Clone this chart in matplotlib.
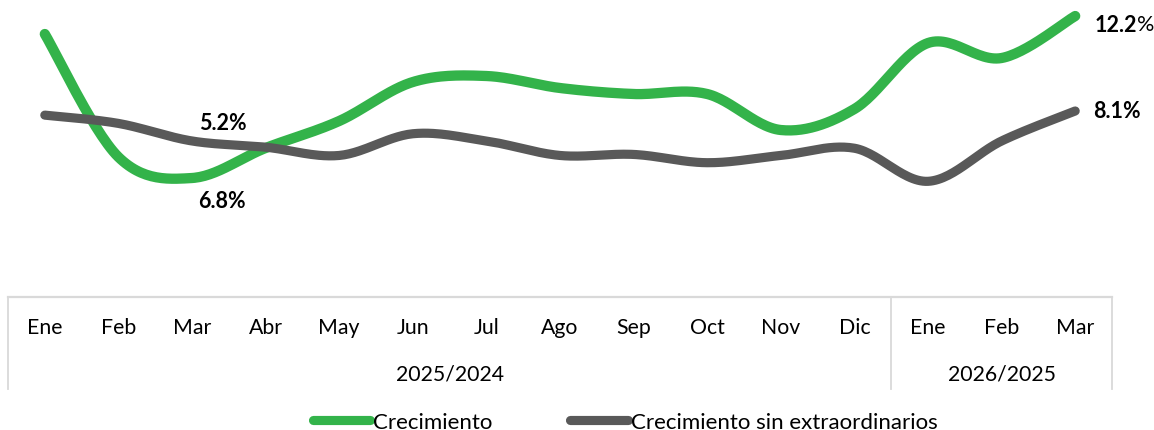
import matplotlib
matplotlib.use("Agg")
import matplotlib.pyplot as plt
import matplotlib.transforms as mtransforms
from matplotlib.lines import Line2D
import numpy as np

plt.rcParams["font.family"] = ["Lato", "DejaVu Sans"]

# --- data ---
months = ["Ene", "Feb", "Mar", "Abr", "May", "Jun", "Jul", "Ago", "Sep", "Oct",
          "Nov", "Dic", "Ene", "Feb", "Mar"]
years = ["2025/2024", "2026/2025"]
year_spans = [(0, 11), (12, 14)]
crecimiento = [11.6, 7.5, 6.8, 7.8, 8.7, 10.0, 10.2, 9.8, 9.6, 9.6, 8.4, 9.1,
               11.3, 10.8, 12.2]
sin_extra = [7.7, 6.9, 5.2, 4.6, 3.8, 5.9, 5.2, 3.8, 3.9, 3.1, 3.8, 4.5,
             1.3, 5.2, 8.1]

GREEN = "#33b34a"
GRAY = "#595959"
GRID = "#d9d9d9"


def smooth(xs, ys, n=30):
    # Catmull-Rom style bezier, like Excel's "smoothed line"
    p = np.column_stack([xs, ys]).astype(float)
    p = np.vstack([p[0], p, p[-1]])
    out = []
    t = np.linspace(0, 1, n)[:, None]
    for i in range(1, len(p) - 2):
        p0, p1, p2, p3 = p[i - 1], p[i], p[i + 1], p[i + 2]
        c1 = p1 + (p2 - p0) / 6
        c2 = p2 - (p3 - p1) / 6
        seg = ((1 - t) ** 3) * p1 + 3 * ((1 - t) ** 2) * t * c1 \
            + 3 * (1 - t) * t ** 2 * c2 + t ** 3 * p2
        out.append(seg if i == 1 else seg[1:])
    out = np.vstack(out)
    return out[:, 0], out[:, 1]


W, H = 1154, 431
fig = plt.figure(figsize=(W / 100, H / 100), dpi=100)

left, right = 8 / W, 1112 / W
ax = fig.add_axes([left, 1 - 297 / H, right - left, 297 / H])
ax2 = ax.twinx()
for a in (ax, ax2):
    a.set_xlim(-0.5, len(months) - 0.5)
    a.axis("off")
ax.set_ylim(2.867, 12.767)
ax2.set_ylim(-9.79, 18.93)

x = np.arange(len(months))
sx, sy = smooth(x, crecimiento)
ax.plot(sx, sy, color=GREEN, lw=7.4, solid_capstyle="round", zorder=3)
gx, gy = smooth(x, sin_extra)
ax2.plot(gx, gy, color=GRAY, lw=6.6, solid_capstyle="round", zorder=2)

# --- data labels ---
FS_LAB = 15.5
lab = dict(fontsize=FS_LAB, fontweight="bold", color="black", va="center",
           textcoords="offset points")
ax2.annotate(f"{sin_extra[2]:.1f}%", (2, sin_extra[2]), xytext=(22, 13),
             ha="center", **lab)
ax.annotate(f"{crecimiento[2]:.1f}%", (2, crecimiento[2]), xytext=(21.5, -16.5),
            ha="center", **lab)
t_end = ax.annotate(f"{crecimiento[-1]:.1f}", (14, crecimiento[-1]),
                    xytext=(14, -5.8), ha="left", **lab)
ax.annotate("%", xy=(1, 0.5), xycoords=t_end, fontsize=FS_LAB, va="center",
            ha="left", color="black", annotation_clip=False)
ax2.annotate(f"{sin_extra[-1]:.1f}%", (14, sin_extra[-1]), xytext=(13, 0),
             ha="left", **lab)

# --- category table ---
top_y = 1 - 297.5 / H
bot_y = 1 - 390 / H
fig.add_artist(Line2D([left, right], [top_y, top_y], color=GRID, lw=1.6,
                      transform=fig.transFigure))
sep_x = [(-0.5), 11.5, 14.5]
trans = mtransforms.blended_transform_factory(ax.transData, fig.transFigure)
for sx_ in sep_x:
    fig.add_artist(Line2D([sx_, sx_], [bot_y, top_y], color=GRID, lw=1.3,
                          transform=trans))
for i, m in enumerate(months):
    fig.text(i, 1 - 328 / H, m, transform=trans, ha="center", va="center",
             fontsize=15.3, color="black")
for (a, b), yl in zip(year_spans, years):
    fig.text((a + b) / 2, 1 - 375 / H, yl, transform=trans, ha="center",
             va="center", fontsize=15.3, color="black")

# --- legend ---
handles = [Line2D([0], [0], color=GREEN, lw=6.6, solid_capstyle="round"),
           Line2D([0], [0], color=GRAY, lw=6.6, solid_capstyle="round")]
fig.legend(handles, ["Crecimiento", "Crecimiento sin extraordinarios"],
           loc="center", bbox_to_anchor=(625 / W, 1 - 423 / H), ncol=2,
           frameon=False, fontsize=16, handlelength=2.6, handletextpad=0.12,
           columnspacing=3.5, borderpad=0, borderaxespad=0)

fig.savefig("out.png", dpi=100)
